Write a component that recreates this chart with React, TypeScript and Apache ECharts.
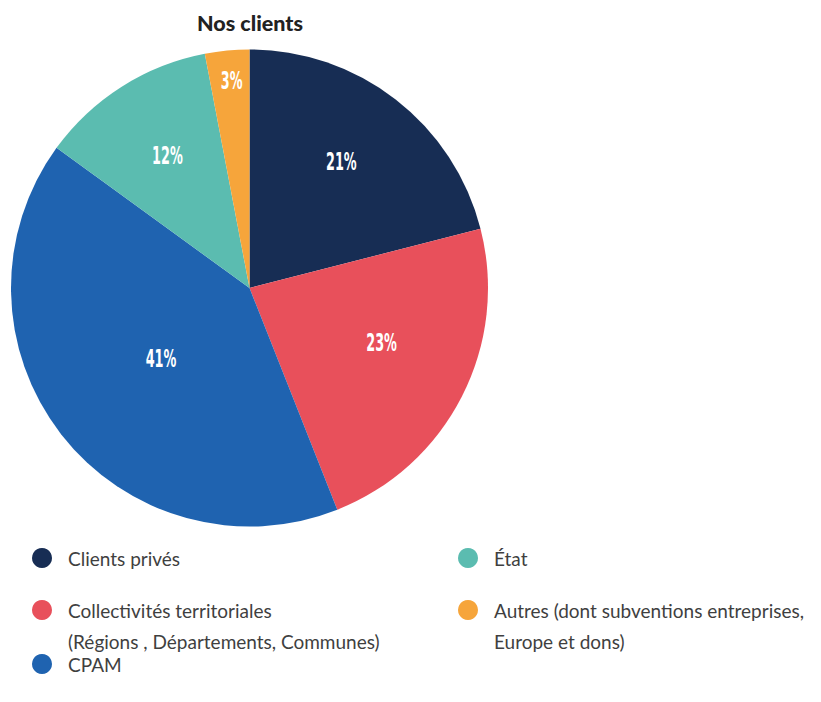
import React, { useEffect, useRef } from "react";
import * as echarts from "echarts";

const categories = ["Clients privés", "Collectivités territoriales", "CPAM", "État", "Autres"];
const values = [21, 23, 41, 12, 3];
const legendLabels = [
  ["Clients privés"],
  ["Collectivités territoriales", "(Régions , Départements, Communes)"],
  ["CPAM"],
  ["État"],
  ["Autres (dont subventions entreprises,", "Europe et dons)"],
];
const colors = ["#172d54", "#e8505b", "#1f63b0", "#5bbcb0", "#f6a53b"];

// layout
const CX = 249.5;
const CY = 288;
const R = 238.5;
const labelRadiusFrac = [0.657, 0.599, 0.473, 0.653, 0.875];
const labelAngleShiftDeg = [-1.9, -4.6, -0.5, 0.6, 0.5];
const legendPos = [
  [42, 558],
  [42, 610],
  [42, 664],
  [468, 558],
  [468, 610],
];

export default function App() {
  const ref = useRef<HTMLDivElement>(null);
  useEffect(() => {
    const chart = echarts.init(ref.current!, null, { renderer: "svg" });
    const total = values.reduce((a, b) => a + b, 0);
    const starts: number[] = [];
    let acc = 0;
    values.forEach((v) => {
      starts.push(acc);
      acc += v;
    });

    const graphic: any[] = [];
    categories.forEach((c, i) => {
      const [x, y] = legendPos[i];
      graphic.push({
        type: "circle",
        shape: { cx: x, cy: y, r: 10 },
        style: { fill: colors[i] },
      });
      legendLabels[i].forEach((line, j) => {
        graphic.push({
          type: "text",
          x: x + 26,
          y: y + j * 31,
          style: {
            text: line,
            fill: "#3f3f3f",
            fontFamily: "Lato",
            fontSize: 19,
            verticalAlign: "middle",
            align: "left",
          },
        });
      });
    });

    // percentage labels (condensed), placed from the data's angles
    values.forEach((v, i) => {
      const mid =
        ((starts[i] + v / 2) / total) * Math.PI * 2 + (labelAngleShiftDeg[i] * Math.PI) / 180;
      const r = R * labelRadiusFrac[i];
      graphic.push({
        type: "text",
        x: CX + r * Math.sin(mid),
        y: CY - r * Math.cos(mid),
        scaleX: 0.57,
        z: 100,
        style: {
          text: v + "%",
          fill: "#ffffff",
          fontFamily: "'DejaVu Sans Condensed', 'DejaVu Sans', sans-serif",
          fontWeight: "bold",
          fontSize: 25,
          align: "center",
          verticalAlign: "middle",
        },
      });
    });

    chart.setOption({
      animation: false,
      title: {
        text: "Nos clients",
        left: 192,
        top: 7,
        textStyle: { fontFamily: "Lato", fontWeight: 900, fontSize: 21.5, color: "#222" },
      },
      graphic,
      series: [
        {
          type: "pie",
          center: [CX, CY],
          radius: [0, R],
          startAngle: 90,
          clockwise: true,
          avoidLabelOverlap: false,
          itemStyle: { borderWidth: 0 },
          label: { show: false },
          labelLine: { show: false },
          data: categories.map((c, i) => ({
            name: c,
            value: values[i],
            itemStyle: { color: colors[i] },
          })),
        },
      ],
    });
    return () => chart.dispose();
  }, []);
  return (
    <div
      ref={ref}
      style={{ position: "fixed", left: 0, top: 0, width: 821, height: 702, background: "#fff" }}
    />
  );
}
